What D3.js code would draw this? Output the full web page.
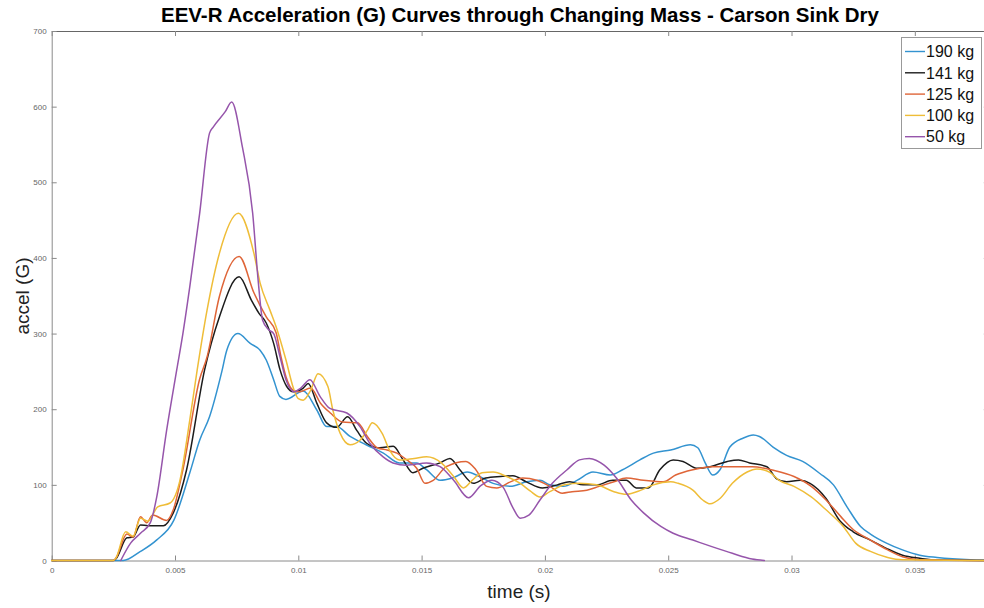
<!DOCTYPE html>
<html>
<head>
<meta charset="utf-8">
<script src="https://cdn.jsdelivr.net/npm/d3@7"></script>
<style>
  html, body { margin: 0; padding: 0; background: #fff; }
  svg { display: block; font-family: "Liberation Sans", Arial, Helvetica, sans-serif; }
</style>
</head>
<body>
<svg id="chart" width="984" height="608"></svg>
<script>
// ---------------- data ----------------
const seriesNames = ["190 kg", "141 kg", "125 kg", "100 kg", "50 kg"];

const t190 = [0, 0.0025, 0.0029, 0.0036, 0.00425, 0.00495, 0.0056, 0.006, 0.0064, 0.0069, 0.0071, 0.00755, 0.00805, 0.00845, 0.0087, 0.009, 0.00925, 0.0095, 0.0102, 0.01075, 0.01115, 0.01155, 0.0121, 0.01275, 0.01345, 0.0141, 0.0148, 0.0152, 0.01575, 0.01625, 0.01685, 0.01735, 0.0179, 0.0186, 0.01925, 0.0198, 0.0202, 0.02075, 0.0213, 0.02195, 0.02265, 0.02315, 0.02385, 0.0244, 0.0251, 0.0259, 0.0262, 0.0265, 0.0268, 0.0271, 0.0275, 0.02805, 0.02845, 0.0287, 0.02925, 0.0298, 0.03045, 0.03115, 0.0317, 0.03225, 0.0328, 0.0332, 0.03385, 0.0345, 0.0352, 0.0359, 0.03725, 0.038];
const a190 = [0, 0, 0, 12, 27, 53, 116, 159, 190, 250, 278, 300, 287, 278, 265, 239, 217, 213, 224, 199, 177, 177, 164, 153, 142, 129, 129, 120, 106, 109, 117, 111, 102, 98, 104, 106, 100, 98, 106, 117, 113, 120, 133, 142, 146, 153, 149, 129, 113, 120, 150, 162, 166, 164, 150, 139, 131, 115, 100, 71, 45, 35, 23, 14, 7, 4, 1, 0.5];

const t141 = [0, 0.0025, 0.0026, 0.00305, 0.0033, 0.0036, 0.0039, 0.00453, 0.00493, 0.00547, 0.0062, 0.0068, 0.0076, 0.0081, 0.0084, 0.0087, 0.009, 0.00926, 0.00953, 0.0098, 0.0102, 0.0104, 0.01075, 0.01115, 0.01155, 0.012, 0.01237, 0.01277, 0.0133, 0.01385, 0.01425, 0.01465, 0.01505, 0.01575, 0.01615, 0.01655, 0.0171, 0.0176, 0.0182, 0.0187, 0.01925, 0.0199, 0.0205, 0.021, 0.02155, 0.0221, 0.02275, 0.0233, 0.0237, 0.0242, 0.02466, 0.0252, 0.0256, 0.02615, 0.0267, 0.0274, 0.02785, 0.0283, 0.029, 0.0294, 0.0298, 0.03035, 0.03075, 0.0314, 0.03195, 0.0325, 0.0332, 0.03385, 0.0345, 0.0352, 0.0359, 0.038];
const a141 = [0, 0, 2, 30, 31, 47, 46, 46, 63, 120, 252, 322, 375, 344, 327, 314, 287, 252, 230, 223, 228, 234, 208, 182, 176, 190, 172, 155, 149, 151, 133, 116, 122, 129, 135, 120, 102, 109, 111, 112, 104, 96, 100, 104, 100, 100, 106, 106, 96, 96, 120, 133, 131, 122, 124, 131, 133, 129, 124, 108, 104, 106, 102, 82, 53, 38, 27, 16, 7, 3, 0.5, 0];

const t125 = [0, 0.0025, 0.0026, 0.00305, 0.0033, 0.0036, 0.00385, 0.0041, 0.00466, 0.00493, 0.00532, 0.006, 0.0063, 0.0068, 0.0076, 0.0082, 0.0087, 0.0091, 0.0093, 0.0095, 0.0098, 0.01005, 0.0105, 0.0109, 0.0113, 0.0118, 0.0124, 0.0128, 0.0132, 0.0136, 0.014, 0.0144, 0.0148, 0.01514, 0.01547, 0.016, 0.0168, 0.0172, 0.01764, 0.01805, 0.0186, 0.0191, 0.01967, 0.0202, 0.0207, 0.0211, 0.0217, 0.0222, 0.0228, 0.0233, 0.024, 0.0248, 0.0253, 0.026, 0.0268, 0.0276, 0.0284, 0.0293, 0.0301, 0.0308, 0.0314, 0.032, 0.0325, 0.0332, 0.0339, 0.0345, 0.0352, 0.038];
const a125 = [0, 0, 3, 35, 31, 58, 50, 60, 53, 67, 120, 240, 269, 349, 402, 354, 322, 301, 269, 243, 225, 223, 228, 208, 195, 183, 182, 164, 149, 146, 142, 133, 122, 102, 106, 124, 131, 120, 98, 96, 104, 109, 106, 98, 89, 91, 93, 98, 104, 109, 106, 104, 113, 120, 124, 124, 124, 119, 111, 98, 80, 58, 41, 27, 14, 5, 1, 0];

const t100 = [0, 0.0025, 0.0026, 0.003, 0.0033, 0.0036, 0.0039, 0.0043, 0.0048, 0.0052, 0.0056, 0.0059, 0.0063, 0.0068, 0.00757, 0.0082, 0.00845, 0.00885, 0.0091, 0.0095, 0.0098, 0.01, 0.0102, 0.0105, 0.0108, 0.0112, 0.0114, 0.0117, 0.0121, 0.0125, 0.0128, 0.013, 0.0134, 0.0137, 0.0141, 0.0147, 0.0152, 0.0158, 0.0163, 0.0167, 0.01705, 0.01745, 0.0179, 0.01845, 0.019, 0.0194, 0.0198, 0.0202, 0.0208, 0.0214, 0.0221, 0.0228, 0.0233, 0.0239, 0.0244, 0.0251, 0.0254, 0.026, 0.0264, 0.0267, 0.0271, 0.0276, 0.0282, 0.0286, 0.0291, 0.0295, 0.0301, 0.0308, 0.0314, 0.0321, 0.0326, 0.0332, 0.0339, 0.0345, 0.038];
const a100 = [0, 0, 3, 38, 32, 56, 52, 71, 76, 106, 186, 252, 331, 406, 459, 406, 367, 331, 309, 265, 228, 214, 212, 225, 247, 230, 199, 168, 153, 159, 172, 182, 168, 146, 133, 135, 137, 129, 111, 96, 106, 116, 117, 111, 102, 92, 84, 91, 100, 102, 100, 91, 87.5, 93, 100, 104, 102, 93, 80, 75, 82, 102, 117, 121, 117, 106, 98, 84, 67, 45, 23, 12, 4, 1, 0];

const t50 = [0.0028, 0.0032, 0.0036, 0.004, 0.00426, 0.00466, 0.00507, 0.00532, 0.0056, 0.006, 0.0064, 0.00655, 0.00703, 0.0073, 0.00773, 0.00815, 0.00837, 0.00855, 0.0088, 0.009, 0.00926, 0.0095, 0.00984, 0.0101, 0.01047, 0.01088, 0.01128, 0.01197, 0.0125, 0.0129, 0.01344, 0.01384, 0.0144, 0.0152, 0.01575, 0.0163, 0.0169, 0.0174, 0.01785, 0.0183, 0.0187, 0.019, 0.01935, 0.0198, 0.0203, 0.0209, 0.0214, 0.0218, 0.0224, 0.0229, 0.0235, 0.024, 0.0247, 0.0252, 0.026, 0.0268, 0.0276, 0.0284, 0.0289];
const a50 = [0, 23, 36, 50, 84, 172, 252, 300, 362, 459, 565, 573, 593, 606, 547, 459, 371, 318, 305, 300, 269, 239, 223, 228, 239, 217, 201, 195, 177, 155, 137, 129, 126, 129, 124, 106, 83, 99, 106, 97, 70, 56, 60, 80, 102, 120, 133, 135, 126, 109, 80, 63, 45, 36, 27, 18, 9.5, 2, 0];

const xTicks = [0, 0.005, 0.01, 0.015, 0.02, 0.025, 0.03, 0.035];
const xTickLabels = ["0", "0.005", "0.01", "0.015", "0.02", "0.025", "0.03", "0.035"];
const yTicks = [0, 100, 200, 300, 400, 500, 600, 700];
const colors = ["#3393d0", "#1c1c1c", "#df6538", "#efbd38", "#9655ab"];

// ---------------- chart ----------------
const svg = d3.select("#chart");
const W = 984, H = 608;
svg.append("rect").attr("width", W).attr("height", H).attr("fill", "#fff");

const x = d3.scaleLinear().domain([0, 0.038]).range([51.7, 988.8]);
const y = d3.scaleLinear().domain([0, 700]).range([560.5, 31]);

const axisColor = "#8a8a8a";
const labelColor = "#666";

function styleAxis(g) {
  g.select(".domain").attr("stroke", axisColor).attr("stroke-width", 1);
  g.selectAll(".tick line").attr("stroke", axisColor).attr("stroke-width", 1);
  g.selectAll(".tick text").attr("fill", labelColor).attr("font-size", 8)
    .attr("font-family", "Liberation Sans, Arial, sans-serif");
}

// bottom axis
svg.append("g").attr("transform", `translate(0,${y(0)})`)
  .call(d3.axisBottom(x).tickValues(xTicks)
    .tickFormat((d, i) => xTickLabels[i]).tickSize(-5).tickSizeOuter(0).tickPadding(7))
  .call(styleAxis);
// top axis (box)
svg.append("g").attr("transform", `translate(0,${y(700)})`)
  .call(d3.axisTop(x).tickValues(xTicks).tickFormat("").tickSize(-5).tickSizeOuter(0))
  .call(styleAxis)
  .call(g => g.select(".domain").attr("stroke", "#666"));
// left axis
svg.append("g").attr("transform", `translate(${x(0)},0)`)
  .call(d3.axisLeft(y).tickValues(yTicks).tickFormat(d3.format("d"))
    .tickSize(-5).tickSizeOuter(0).tickPadding(5))
  .call(styleAxis);
// right axis (box)
svg.append("g").attr("transform", `translate(${x(0.038)},0)`)
  .call(d3.axisRight(y).tickValues(yTicks).tickFormat("").tickSize(-5).tickSizeOuter(0))
  .call(styleAxis);

// lines
const series = [
  d3.zip(t190, a190),
  d3.zip(t141, a141),
  d3.zip(t125, a125),
  d3.zip(t100, a100),
  d3.zip(t50, a50)
];
const line = d3.line()
  .x(d => x(d[0]))
  .y(d => y(d[1]))
  .curve(d3.curveMonotoneX);

const plot = svg.append("g");
series.forEach((s, i) => {
  plot.append("path")
    .datum(s)
    .attr("d", line)
    .attr("fill", "none")
    .attr("stroke", colors[i])
    .attr("stroke-width", 1.5)
    .attr("stroke-linejoin", "round")
    .attr("stroke-linecap", "round");
});

// title
svg.append("text")
  .attr("x", 520).attr("y", 22)
  .attr("text-anchor", "middle")
  .attr("font-size", 20.5).attr("font-weight", "bold").attr("fill", "#000")
  .text("EEV-R Acceleration (G) Curves through Changing Mass - Carson Sink Dry");

// axis labels
svg.append("text")
  .attr("x", 519).attr("y", 598)
  .attr("text-anchor", "middle")
  .attr("font-size", 19).attr("fill", "#222")
  .text("time (s)");
svg.append("text")
  .attr("transform", "translate(29,296) rotate(-90)")
  .attr("text-anchor", "middle")
  .attr("font-size", 19).attr("fill", "#222")
  .text("accel (G)");

// legend
const lg = svg.append("g");
lg.append("rect")
  .attr("x", 901.5).attr("y", 37.5).attr("width", 80).attr("height", 111)
  .attr("fill", "#fff").attr("stroke", "#999").attr("stroke-width", 1);
seriesNames.forEach((name, i) => {
  const cy = 51.5 + i * 21.3;
  lg.append("line")
    .attr("x1", 905).attr("x2", 925).attr("y1", cy).attr("y2", cy)
    .attr("stroke", colors[i]).attr("stroke-width", 1.4);
  lg.append("text")
    .attr("x", 926).attr("y", cy).attr("dy", "0.36em")
    .attr("font-size", 16).attr("fill", "#111")
    .text(name);
});
</script>
</body>
</html>
